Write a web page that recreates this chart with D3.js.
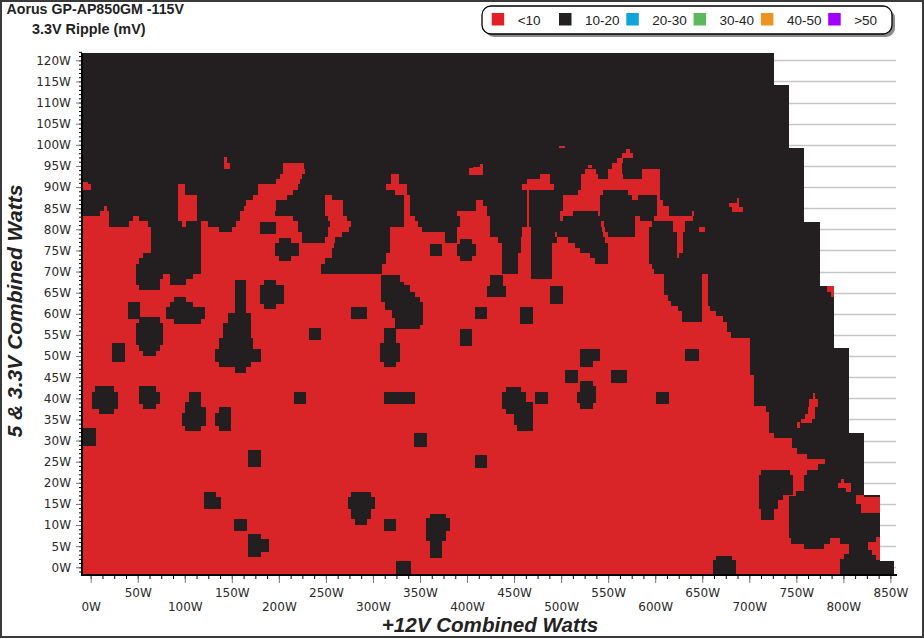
<!DOCTYPE html>
<html><head><meta charset="utf-8">
<script src="https://cdn.jsdelivr.net/npm/d3@7"></script>
<style>html,body{margin:0;padding:0;background:#fff}svg{display:block}</style>
</head><body><div id="c"></div>
<script>
const titleLines = ["Aorus GP-AP850GM -115V", "3.3V Ripple (mV)"];
const xTitle = "+12V Combined Watts";
const yTitle = "5 & 3.3V Combined Watts";
const legendLabels = ["<10","10-20","20-30","30-40","40-50",">50"];
const legendColors = ["#e31f26","#231f20","#0ea5d8","#5cb85c","#ee9320","#a000ff"];
const xTicks = d3.range(0,851,50);
const yTicks = d3.range(0,121,5);
const xMinor = d3.range(0,851,12.5);
const yMinor = d3.range(-1,123,1);

// tested envelope: [top W, bottom W, right-most +12V W]; everything inside reads 10-20 unless listed below
const envelope = [
 [121.7,114.2,728],[114.2,99.2,744],[99.2,81.7,760],[81.7,66.6,777],[66.6,51.9,792],
 [51.9,31.8,808],[31.8,17.1,824],[17.1,1.5,841],[1.5,-1.6,856]];

// rows reading <10: [row W, [from,to, from,to, ...]]
const redRows = [
 [97.5,[566,578]],
 [96.25,[142,145,561,567]],
 [95,[142,149,205,227,556,566]],
 [93.75,[205,228,527,539,552,566,588,607]],
 [92.5,[202,225,320,329,479,490,523,541,552,567,588,607]],
 [91.25,[198,223,320,329,465,490,523,607]],
 [90,[-10,0,93,100,178,221,315,337,460,494,523,607]],
 [88.75,[93,100,178,216,324,337,465,467,520,546,573,607]],
 [87.5,[93,113,173,209,250,257,334,340,465,467,504,543,577,583,604,607]],
 [86.25,[93,113,166,198,250,269,334,340,411,418,465,467,504,543,604,610]],
 [85,[14,17,93,113,163,198,250,269,334,340,411,423,465,467,504,543,604,616]],
 [83.75,[10,20,93,113,159,197,250,269,334,340,391,423,465,467,500,514,541,543,604,616,641,643]],
 [82.5,[-10,20,45,52,93,113,159,216,253,273,334,346,394,426,465,467,500,504,580,586,601,642]],
 [81.25,[-10,20,41,61,97,102,118,125,155,221,255,277,334,349,394,426,465,467,544,547,580,598,621,634]],
 [80,[-10,64,118,137,151,221,253,275,319,353,391,426,460,469,545,548,580,595,621,634,648,655]],
 [78.75,[-10,64,118,225,253,268,319,378,391,426,460,469,495,497,546,552,580,595,625,631]],
 [77.5,[-10,64,118,225,250,260,319,378,391,434,459,469,497,509,548,595,625,631]],
 [76.25,[-10,64,118,259,319,438,459,469,492,516,552,595,625,631]],
 [75,[-10,64,118,257,319,438,459,469,492,522,552,595,625,631]],
 [73.75,[-10,56,118,257,315,438,456,469,492,532,552,595,625,627]],
 [72.5,[-10,52,118,250,315,438,456,469,492,538,552,595]],
 [71.25,[-10,48,118,245,311,438,456,469,492,598]],
 [70,[-10,48,118,245,311,438,456,469,492,600]],
 [68.75,[-10,48,77,85,109,469,492,611,652,658]],
 [67.5,[-10,48,74,85,102,611,652,658]],
 [66.25,[-10,52,74,611,652,658]],
 [65,[-10,611,652,658]],
 [63.75,[-10,615,652,658]],
 [62.5,[-10,619,652,658]],
 [61.25,[-10,626,652,660]],
 [60,[-10,630,652,667]],
 [58.75,[-10,630,652,674]],
 [57.5,[-10,678]],[56.25,[-10,678]],[55,[-10,683]],[53.75,[-10,703]],[52.5,[-10,703]],
 [51.25,[-10,703]],[50,[-10,703]],[48.75,[-10,703]],[47.5,[-10,703]],[46.25,[-10,703]],
 [45,[-10,707]],[43.75,[-10,707]],[42.5,[-10,707]],[41.25,[-10,707]],[40,[-10,707]],[38.75,[-10,707]],
 [37.5,[-10,720]],[36.25,[-10,723]],[35,[-10,723]],[33.75,[-10,723]],[32.5,[-10,723]],[31.25,[-10,728]],
 [30,[-10,748]],[28.75,[-10,748]],[27.5,[-10,753]],[26.25,[-10,764]],[25,[-10,783]],[23.75,[-10,775]],
 [22.5,[-10,764]],[21.25,[-10,760]],[20,[-10,760]],[18.75,[-10,760]],[17.5,[-10,752]],
 [16.25,[-10,744]],[15,[-10,744]],[13.75,[-10,744]],[12.5,[-10,744]],[11.25,[-10,744]],[10,[-10,744]],
 [8.75,[-10,744]],[7.5,[-10,744]],
 [6.25,[-10,747,788,799]],[5,[-10,760,782,808]],[3.75,[-10,808]],[2.5,[-10,803]],
 [1.25,[-10,799]],[0,[-10,799]],[-1.25,[-10,799]]];
const rowHalf = 0.625;

// 10-20 patches inside the <10 area: [from W, to W, top W, bottom W]
const blackPatches = [
 [180.5,198,81.8,78.9],
 [201,214,77.9,76.7],[196,222,76.7,73.7],[201,214,73.7,72.5],
 [185,198,68,66.8],[180,206,66.8,62.3],[185,198,62.3,61.1],
 [154,166,68,60.3],[146,170.5,60.3,57.8],[141,170.5,57.8,54.2],[137,173,54.2,51.7],[133,182,51.7,48.7],[137,171,48.7,47.3],[154,166,47.3,46.1],
 [40,53,62.9,58.7],
 [89,102,64,62.9],[85,109,62.9,61.7],[80,122,61.7,58.7],[89,118,58.7,57.5],
 [52,74,59.2,57.8],[48,77,57.8,52.5],[52,74,52.5,51.2],[56,70,51.2,50],
 [23,37,53,48.7],[277,295,61.7,58.7],[233,246,56.6,53.7],
 [313,326,56.6,53],[308,330,53,48.7],[313,326,48.7,47.3],
 [310,330,69.2,67.6],[310,334,67.6,66.8],[310,340,66.8,65.2],[310,346,65.2,64],[310,351,64,62.8],
 [314,354,62.8,60.9],[321,354,60.9,59],[324,354,59,57.3],[324,351,57.3,56.3],
 [362,375,76.6,73.6],
 [394,407,77.8,76.6],[390,411,76.6,73.6],[394,407,73.6,72.5],
 [426,440,69.1,66.6],[422,443,66.6,63.9],
 [490,503,66.6,62.3],[410,423,61.6,58.7],[458,472,61.6,57.5],[394,407,56.5,52.3],
 [522,543,51.6,48.8],[522,536,48.8,47.3],[634,648,51.6,48.8],
 [506,519,46.7,43.7],[555,572,46.7,43.7],
 [522,536,44.1,42.9],[522,539,42.9,41.5],[518,539,41.5,38.8],[522,536,38.8,37.4],
 [603,616,41.5,38.6],[474,487,41.5,38.6],[313,346,41.6,38.6],
 [443,459,42.7,41.5],[438,464,41.5,39.2],[438,472,39.2,37.4],[443,472,37.4,36.2],[451,472,36.2,33.7],[455,472,33.7,32.2],
 [345,359,31.7,28.5],[410,423,26.5,23.6],
 [362,379,12.7,11.6],[357,383,11.6,8.6],[357,379,8.6,6.2],[362,375,6.2,2.3],
 [325,342,1.6,-1.6],[667,684,2.75,1.7],[663,688,1.7,-1.6],
 [5,25,42.8,41.4],[1,29,41.4,37.5],[9,25,37.5,36.2],
 [52,70,42.8,41.4],[52,74,41.4,38.6],[56,70,38.6,37.4],
 [105,118,41.4,39.2],[101,118,39.2,37.9],[101,123,37.9,36.6],[97,123,36.6,33.5],[101,118,33.5,32.3],
 [137,150,37.9,36.6],[133,150,36.6,33.5],[137,150,33.5,32.3],
 [217,230,41.6,38.6],[-9.7,6,32.9,28.7],[168,182,27.8,23.7],
 [121,134,17.8,16.6],[121,139,16.6,13.8],
 [153,167,11.5,8.6],[168,182,7.9,2.4],[182,190,6.7,3.7],
 [278,299,17.8,16.6],[274,303,16.6,13.8],[278,299,13.8,11.4],[282,295,11.4,9.9],
 [313,326,11.5,8.6],
 [715,745,23,21.8],[712,749,21.8,17.1],[712,738,17.1,15.9],[712,733,15.9,13.7],[715,728,13.7,11.3]];

// small <10 specks inside the 10-20 area: [from W, to W, top W, bottom W]
const redSpecks = [
 [-10,-3,91.1,90.4],[142,145,97,96],[571,575,98.9,97.9],[499,506,99.8,99.2],[530,534,95.3,94.5],
 [415,418,95.4,94.8],[408,418,94.8,94.4],[403,418,94.4,92.8],
 [680,691,86.3,85.2],[689,691,87.3,86.3],[684,695,85.2,84.2],
 [785,792,66.6,65.2],[789,792,65.2,64],
 [770,772,41.2,39.8],[766,775,39.8,37.9],[765,772,37.9,36.4],[761,772,36.4,35.2],[757,769,35.2,34.1],[753,756,34.5,32.9],
 [800,803,21,20],[797,811,20,18.8],[805,811,18.8,17.9],
 [816,824,17.1,16.6],[816,841,16.6,15.1],[821,841,15.1,12.8],
 [837,841,7.2,6.1],[829,841,6.1,4.1],[833,841,4.1,2.9],[837,841,2.9,1.7]];

const W = 924, H = 639;
const RED = "#da2528", BLACK = "#231f20";
const svg = d3.select("#c").append("svg").attr("width",W).attr("height",H);
// tick scale, and the slightly narrower scale that the cell readings were taken against
const x = d3.scaleLinear().domain([0,850]).range([90.7,890.4]);
const xCell = d3.scaleLinear().domain([0,850]).range([90.7,888]);
const y = d3.scaleLinear().domain([0,120]).range([567.3,60.3]);

svg.append("rect").attr("x",1).attr("y",1).attr("width",W-2).attr("height",H-3)
  .attr("fill","#fff").attr("stroke","#3a3a3a").attr("stroke-width",2);

// grid
svg.append("g").selectAll("line").data(yTicks).join("line")
  .attr("x1",82).attr("x2",896).attr("y1",d=>Math.round(y(d))+.5).attr("y2",d=>Math.round(y(d))+.5)
  .attr("stroke","#c6c6c6").attr("stroke-width",1.4);

function bandRect(g, data, color){
  g.selectAll(null).data(data).join("rect")
   .attr("x",d=>xCell(d[0])).attr("width",d=>xCell(d[1])-xCell(d[0]))
   .attr("y",d=>y(d[2])).attr("height",d=>y(d[3])-y(d[2]))
   .attr("fill",color).attr("shape-rendering","crispEdges");
}
const plot = svg.append("g");
bandRect(plot, envelope.map(e=>[-10,e[2],e[0],e[1]]), BLACK);
const redCells = redRows.flatMap(([w,runs])=>d3.range(0,runs.length,2).map(i=>[runs[i],runs[i+1],w+rowHalf,w-rowHalf]));
bandRect(plot, redCells, RED);
bandRect(plot, blackPatches, BLACK);
bandRect(plot, redSpecks, RED);

// axes
const labelFont = "DejaVu Sans, sans-serif";
const yMinorG = svg.append("g").attr("transform","translate(82,0)")
  .call(d3.axisLeft(y).tickValues(yMinor).tickSize(3).tickFormat(""));
yMinorG.select(".domain").remove();
yMinorG.selectAll("line").attr("stroke","#000");
const yG = svg.append("g").attr("transform","translate(82,0)")
  .call(d3.axisLeft(y).tickValues(yTicks).tickSize(6).tickPadding(5).tickFormat(d=>d+"W"));
yG.select(".domain").remove();
yG.selectAll("line").attr("stroke","#777");
yG.selectAll("text").attr("font-family",labelFont).attr("font-size",12).attr("fill","#2a2a2a");

const axisY = 575;
const xMinorG = svg.append("g").attr("transform",`translate(0,${axisY})`)
  .call(d3.axisBottom(x).tickValues(xMinor).tickSize(4).tickFormat(""));
xMinorG.select(".domain").remove();
xMinorG.selectAll("line").attr("stroke","#000");
const xG = svg.append("g").attr("transform",`translate(0,${axisY})`)
  .call(d3.axisBottom(x).tickValues(xTicks).tickSize(8).tickFormat(d=>d+"W"));
xG.select(".domain").remove();
xG.selectAll("line").attr("stroke","#777");
xG.selectAll("text").attr("font-family",labelFont).attr("font-size",12).attr("fill","#2a2a2a")
  .attr("y",(d,i)=> i%2 ? 18 : 32).attr("dy","0.32em");

svg.append("line").attr("x1",82).attr("x2",82).attr("y1",53).attr("y2",575).attr("stroke","#000").attr("stroke-width",2);
svg.append("line").attr("x1",81).attr("x2",897).attr("y1",575).attr("y2",575).attr("stroke","#000").attr("stroke-width",2);

// titles
svg.append("text").attr("x",6.5).attr("y",14).text(titleLines[0])
  .attr("font-family","Liberation Sans, Arial, sans-serif").attr("font-weight","bold").attr("font-size",14.2).attr("fill","#222");
svg.append("text").attr("x",32).attr("y",34).text(titleLines[1])
  .attr("font-family","Liberation Sans, Arial, sans-serif").attr("font-weight","bold").attr("font-size",14.4).attr("fill","#222");
svg.append("text").attr("x",490).attr("y",632).attr("text-anchor","middle").text(xTitle)
  .attr("font-family","Liberation Sans, Arial, sans-serif").attr("font-weight","bold").attr("font-style","italic").attr("font-size",20.6).attr("fill","#222");
svg.append("text").attr("transform","translate(22,311) rotate(-90)").attr("text-anchor","middle").text(yTitle)
  .attr("font-family","Liberation Sans, Arial, sans-serif").attr("font-weight","bold").attr("font-style","italic").attr("font-size",21).attr("fill","#222");

// legend
const lg = svg.append("g");
lg.append("rect").attr("x",485).attr("y",9).attr("width",410).attr("height",28).attr("rx",9).attr("fill","#8a8a8a");
lg.append("rect").attr("x",482).attr("y",6).attr("width",410).attr("height",28).attr("rx",9).attr("fill","#fff").attr("stroke","#000").attr("stroke-width",1.3);
const lx = d3.scaleLinear().domain([0,1]).range([491.7,559]);
lg.selectAll(null).data(legendLabels).join("rect")
  .attr("x",(d,i)=>lx(i)).attr("y",13).attr("width",12.5).attr("height",12.5).attr("fill",(d,i)=>legendColors[i]);
lg.selectAll(null).data(legendLabels).join("text")
  .attr("x",(d,i)=>lx(i)+26).attr("y",25).text(d=>d)
  .attr("font-family","Liberation Sans, Arial, sans-serif").attr("font-size",13.5).attr("fill","#222");
</script></body></html>
